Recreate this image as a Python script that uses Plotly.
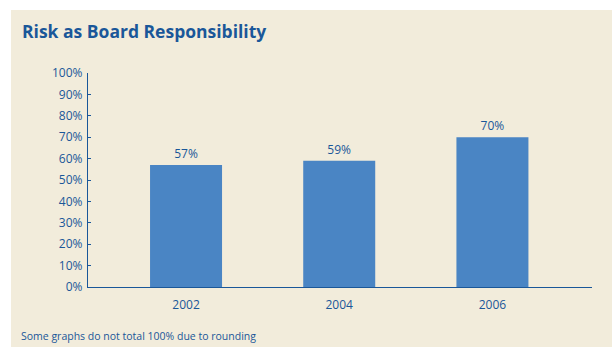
import plotly.graph_objects as go

years = ["2002", "2004", "2006"]
values = [57, 59, 70]
value_labels = ["57%", "59%", "70%"]
y_ticks = [0, 10, 20, 30, 40, 50, 60, 70, 80, 90, 100]
y_tick_labels = ["0%", "10%", "20%", "30%", "40%", "50%", "60%", "70%", "80%", "90%", "100%"]

W, H = 612, 347
L, R, T, B = 88, 20, 73, 60
pw, ph = W - L - R, H - T - B

blue_text = "#1A5799"
bar_color = "#4A85C4"
panel = "#F2ECDB"

fig = go.Figure(go.Bar(
    x=years, y=values, text=value_labels, textposition="outside",
    marker=dict(color=bar_color, line=dict(width=0)),
    width=0.47, cliponaxis=False,
    textfont=dict(family="Open Sans", size=12, color=blue_text),
))

def px_x(x):
    return (x - L) / pw

def px_y(y):
    return (H - B - y) / ph

fig.add_shape(type="rect", xref="paper", yref="paper",
              x0=px_x(11), x1=px_x(613), y0=px_y(348), y1=px_y(10),
              fillcolor=panel, line=dict(width=0), layer="below")

fig.add_annotation(text="Some graphs do not total 100% due to rounding",
                   xref="paper", yref="paper", x=px_x(19), y=px_y(336),
                   xanchor="left", yanchor="middle", showarrow=False,
                   font=dict(family="Open Sans", size=10.5, color=blue_text))

fig.update_layout(
    width=W, height=H,
    margin=dict(l=L, r=R, t=T, b=B),
    paper_bgcolor="white", plot_bgcolor="rgba(0,0,0,0)",
    showlegend=False,
    title=dict(text="<b>Risk as Board Responsibility</b>", xref="container", yref="container",
               x=22 / W, y=1 - 32 / H, xanchor="left", yanchor="middle",
               font=dict(family="Open Sans", size=17.5, color=blue_text)),
    xaxis=dict(range=[-0.64, 2.65], showgrid=False, zeroline=False,
               showline=True, linecolor=blue_text, linewidth=1.2,
               ticks="", tickfont=dict(family="Open Sans", size=12, color=blue_text),
               ticklabelstandoff=6),
    yaxis=dict(range=[0, 100], tickvals=y_ticks, ticktext=y_tick_labels,
               showgrid=False, zeroline=False, showline=True, linecolor=blue_text,
               linewidth=1.2, ticks="inside", ticklen=3, tickcolor=blue_text,
               tickfont=dict(family="Open Sans", size=12, color=blue_text),
               ticklabelstandoff=2),
)

fig.write_html("out.html", config={"displayModeBar": False},
               post_script="document.body.style.margin='0';document.body.style.overflow='hidden';")
